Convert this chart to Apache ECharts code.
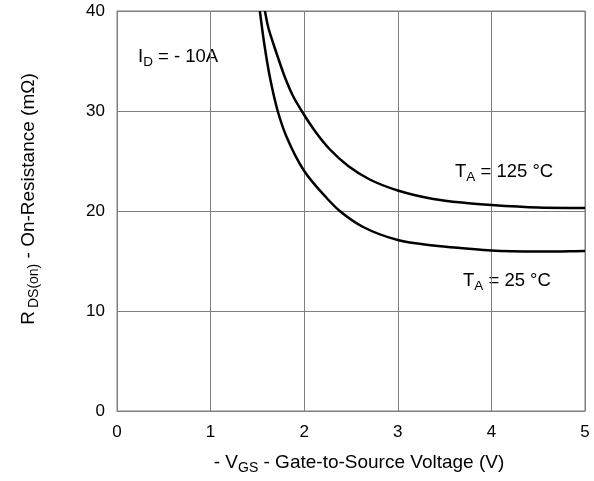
<!DOCTYPE html>
<html>
<head>
<meta charset="utf-8">
<script src="https://cdn.jsdelivr.net/npm/echarts@6/dist/echarts.min.js"></script>
<style>
  html, body { margin: 0; padding: 0; background: #fff; }
  #chart { width: 594px; height: 481px; }
</style>
</head>
<body>
<div id="chart"></div>
<script>
// -VGS (V) vs RDS(on) (mΩ) at ID = -10 A
const curve25C = [
  [1.526, 40], [1.572, 36.8], [1.633, 33.4], [1.72, 29.9], [1.81, 27.45],
  [2.0, 24.0], [2.24, 21.3], [2.38, 20.0], [2.63, 18.4], [3.0, 17.1],
  [3.38, 16.55], [3.73, 16.25], [4.0, 16.05], [4.5, 15.95], [5.0, 16.0]
];
const curve125C = [
  [1.58, 40], [1.615, 38.4], [1.668, 36.8], [1.729, 35.1], [1.793, 33.4],
  [1.875, 31.6], [1.98, 29.9], [2.13, 27.8], [2.27, 26.2], [2.47, 24.5],
  [2.7, 23.15], [3.0, 22.05], [3.38, 21.2], [3.73, 20.8], [4.0, 20.6],
  [4.5, 20.35], [5.0, 20.3]
];
const xTicks = [0, 1, 2, 3, 4, 5];
const yTicks = [0, 10, 20, 30, 40];

const FONT = 'Liberation Sans, Arial, sans-serif';
const gridLine = { lineStyle: { color: '#7f7f7f', width: 1 } };

const chart = echarts.init(document.getElementById('chart'), null, { renderer: 'canvas' });

// Smooth curve through the points (in pixel space), tangent at each point
// is the mean of the unit directions of its two neighbouring chords.
function curveRenderer(points) {
  return function (params, api) {
    if (params.dataIndex !== 0) return { type: 'group', children: [] };
    const P = points.map(p => api.coord(p));
    const n = P.length;
    const unit = (a, b) => {
      const dx = b[0] - a[0], dy = b[1] - a[1];
      const l = Math.hypot(dx, dy) || 1;
      return [dx / l, dy / l];
    };
    const T = P.map((p, i) => {
      if (i === 0) return unit(P[0], P[1]);
      if (i === n - 1) return unit(P[n - 2], P[n - 1]);
      const a = unit(P[i - 1], P[i]), b = unit(P[i], P[i + 1]);
      const s = [a[0] + b[0], a[1] + b[1]];
      const l = Math.hypot(s[0], s[1]) || 1;
      return [s[0] / l, s[1] / l];
    });
    let d = 'M' + P[0][0] + ' ' + P[0][1];
    for (let i = 0; i < n - 1; i++) {
      const L = Math.hypot(P[i + 1][0] - P[i][0], P[i + 1][1] - P[i][1]) / 3;
      const c1 = [P[i][0] + T[i][0] * L, P[i][1] + T[i][1] * L];
      const c2 = [P[i + 1][0] - T[i + 1][0] * L, P[i + 1][1] - T[i + 1][1] * L];
      d += ' C' + c1[0] + ' ' + c1[1] + ' ' + c2[0] + ' ' + c2[1] + ' ' + P[i + 1][0] + ' ' + P[i + 1][1];
    }
    return {
      type: 'path',
      shape: { pathData: d },
      style: { fill: 'none', stroke: '#000', lineWidth: 2.5 }
    };
  };
}

const richNote = {
  m: { fontSize: 18.5, fontFamily: FONT, color: '#000' },
  s: { fontSize: 13.5, fontFamily: FONT, color: '#000', padding: [11, 0, 0, 0] }
};
const richAxis = {
  m: { fontSize: 19, fontFamily: FONT, color: '#000' },
  s: { fontSize: 14, fontFamily: FONT, color: '#000', padding: [11, 0, 0, 0] },
  sg: { fontSize: 14, fontFamily: FONT, color: '#000', padding: [11, 0, 0, 3] }
};

chart.setOption({
  animation: false,
  backgroundColor: '#fff',
  grid: { left: 117, right: 9, top: 11, bottom: 70, show: true, borderColor: '#7f7f7f', borderWidth: 1 },
  xAxis: {
    type: 'value',
    min: xTicks[0], max: xTicks[xTicks.length - 1], interval: 1,
    axisLine: { show: true, lineStyle: { color: '#7f7f7f' } },
    axisTick: { show: false },
    splitLine: Object.assign({ show: true }, gridLine),
    axisLabel: { fontSize: 17, fontFamily: FONT, color: '#000', margin: 13 }
  },
  yAxis: {
    type: 'value',
    min: yTicks[0], max: yTicks[yTicks.length - 1], interval: 10,
    axisLine: { show: true, lineStyle: { color: '#7f7f7f' } },
    axisTick: { show: false },
    splitLine: Object.assign({ show: true }, gridLine),
    axisLabel: { fontSize: 17, fontFamily: FONT, color: '#000', margin: 12 }
  },
  series: [
    { name: '25 °C', type: 'custom', data: curve25C, renderItem: curveRenderer(curve25C), clip: true },
    { name: '125 °C', type: 'custom', data: curve125C, renderItem: curveRenderer(curve125C), clip: true }
  ],
  graphic: [
    // axis titles
    {
      type: 'text', x: 359, y: 463,
      style: {
        text: '{m|- V}{s|GS}{m| - Gate-to-Source Voltage (V)}', rich: richAxis,
        align: 'center', verticalAlign: 'middle'
      }
    },
    {
      type: 'text', x: 29, y: 199, rotation: Math.PI / 2,
      style: {
        text: '{m|R}{sg|DS(on)}{m| - On-Resistance (mΩ)}', rich: richAxis,
        align: 'center', verticalAlign: 'middle'
      }
    },
    // annotations
    {
      type: 'text', left: 138, top: 47,
      style: { text: '{m|I}{s|D}{m| = - 10A}', rich: richNote }
    },
    {
      type: 'text', left: 455, top: 162,
      style: { text: '{m|T}{s|A}{m| = 125 °C}', rich: richNote }
    },
    {
      type: 'text', left: 463, top: 271,
      style: { text: '{m|T}{s|A}{m| = 25 °C}', rich: richNote }
    }
  ]
});
</script>
</body>
</html>
